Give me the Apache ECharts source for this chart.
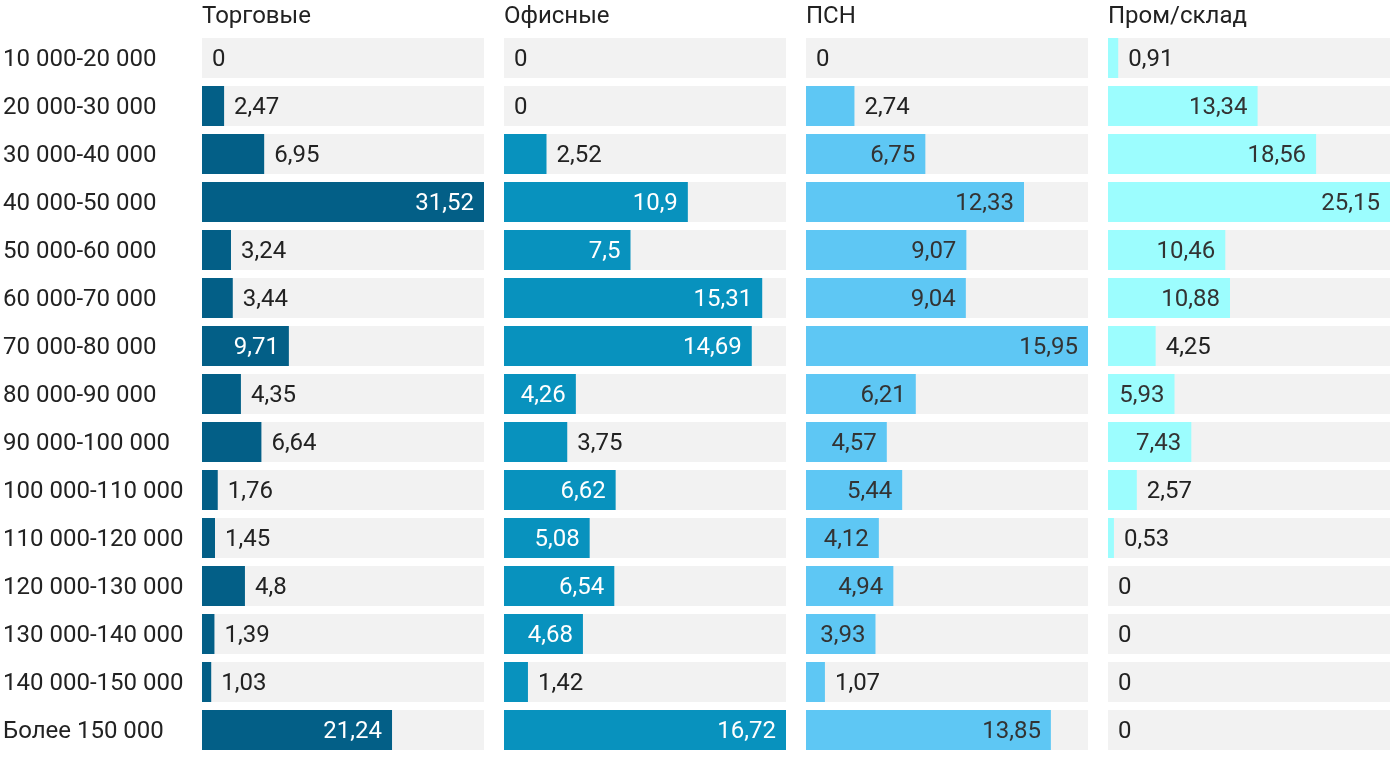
<!DOCTYPE html>
<html>
<head>
<meta charset="utf-8">
<script src="https://cdn.jsdelivr.net/npm/echarts@6/dist/echarts.min.js"></script>
<style>
html,body{margin:0;padding:0;background:#fff;}
#chart{width:1400px;height:766px;}
</style>
</head>
<body>
<div id="chart"></div>
<script>
const categories = ['10 000-20 000','20 000-30 000','30 000-40 000','40 000-50 000','50 000-60 000','60 000-70 000','70 000-80 000','80 000-90 000','90 000-100 000','100 000-110 000','110 000-120 000','120 000-130 000','130 000-140 000','140 000-150 000','Более 150 000'];
const panelTitles = ['Торговые','Офисные','ПСН','Пром/склад'];
const trade = [0,2.47,6.95,31.52,3.24,3.44,9.71,4.35,6.64,1.76,1.45,4.8,1.39,1.03,21.24];
const office = [0,0,2.52,10.9,7.5,15.31,14.69,4.26,3.75,6.62,5.08,6.54,4.68,1.42,16.72];
const psn = [0,2.74,6.75,12.33,9.07,9.04,15.95,6.21,4.57,5.44,4.12,4.94,3.93,1.07,13.85];
const industrial = [0.91,13.34,18.56,25.15,10.46,10.88,4.25,5.93,7.43,2.57,0.53,0,0,0,0];

const seriesData = [trade, office, psn, industrial];
const colors = ['#035f87','#0892be','#5ec7f4','#9cfdfe'];
const insideColors = ['#ffffff','#ffffff','#333333','#333333'];
const lefts = [202,504,806,1108];
const panelWidth = 282;
const fontFamily = 'Roboto, "Noto Sans", sans-serif';

const chart = echarts.init(document.getElementById('chart'));
const grids = [], xAxes = [], yAxes = [], series = [], titles = [];
seriesData.forEach((arr, i) => {
  const max = Math.max(...arr);
  grids.push({left: lefts[i], width: panelWidth, top: 34, height: 720, containLabel: false});
  xAxes.push({type: 'value', gridIndex: i, min: 0, max: max, show: false});
  yAxes.push({
    type: 'category', gridIndex: i, data: categories, inverse: true,
    axisLine: {show: false}, axisTick: {show: false}, splitLine: {show: false},
    axisLabel: {
      show: i === 0, align: 'left', margin: 199,
      formatter: v => '{c|' + v + '}',
      rich: {c: {fontSize: 24, color: '#222', fontFamily: fontFamily, padding: [4, 0, 0, 0]}}
    }
  });
  titles.push({text: panelTitles[i], left: lefts[i] - 5, top: 0, textStyle: {fontSize: 24, fontWeight: 'normal', color: '#222', fontFamily: fontFamily}});
  series.push({
    type: 'bar', xAxisIndex: i, yAxisIndex: i, barWidth: 40,
    showBackground: true, backgroundStyle: {color: '#f2f2f2'},
    itemStyle: {color: colors[i]},
    animation: false,
    data: arr.map(v => {
      const px = v / max * panelWidth;
      const inside = px >= 65;
      return {
        value: v,
        label: {
          show: true,
          position: inside ? 'insideRight' : 'right',
          distance: 10,
          offset: [0, 2],
          color: inside ? insideColors[i] : '#222',
          fontSize: 24, fontFamily: fontFamily,
          formatter: p => String(p.value).replace('.', ',')
        }
      };
    })
  });
});

chart.setOption({
  backgroundColor: '#ffffff',
  title: titles,
  grid: grids,
  xAxis: xAxes,
  yAxis: yAxes,
  series: series
});
</script>
</body>
</html>
